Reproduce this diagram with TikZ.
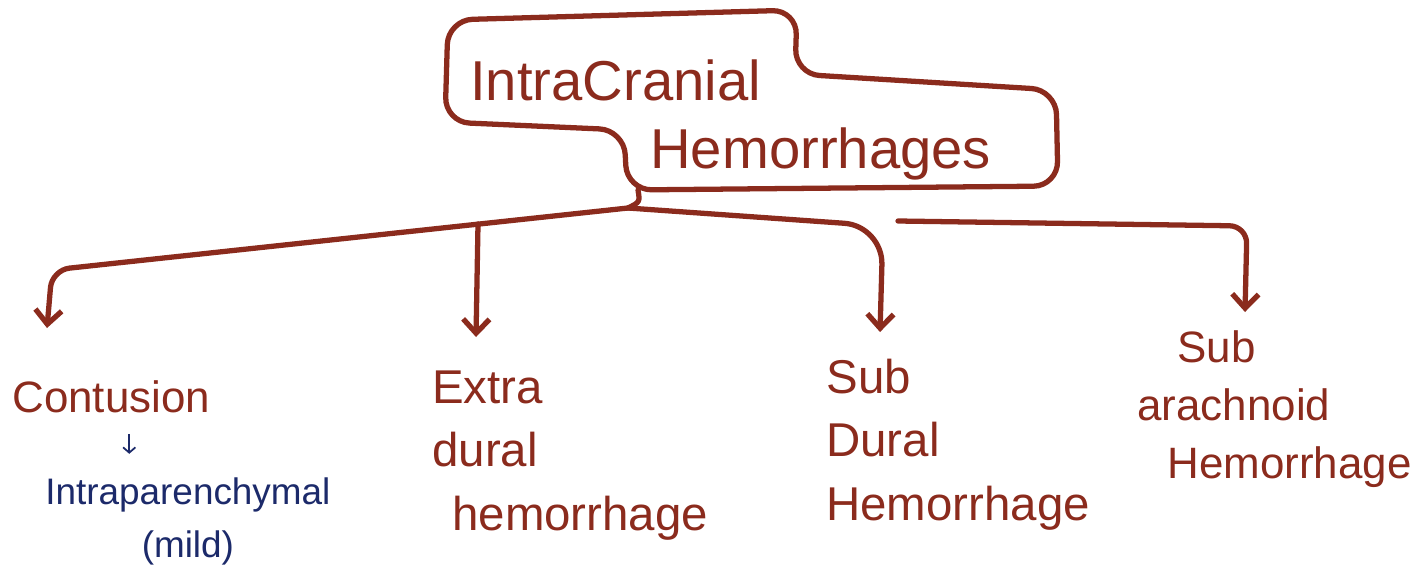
\documentclass[tikz,border=0pt]{standalone}
\usepackage{fontspec}
\setmainfont{Liberation Sans}
\usetikzlibrary{arrows.meta}
\definecolor{inkred}{HTML}{8B2B1D}
\definecolor{inkblue}{HTML}{1C2A6A}

\begin{document}
\begin{tikzpicture}
[x=0.02cm,y=-0.02cm,
  boxdecorate/.style={draw=inkred,line width=3pt,rounded corners=14pt},%
  titledecorate/.style={text=inkred,font=\fontsize{32}{38}\selectfont,inner sep=0pt,anchor=base west},%
  labeldecorate/.style={text=inkred,font=\fontsize{27}{36}\selectfont,inner sep=0pt,anchor=base west,align=left},%
  notedecorate/.style={text=inkblue,font=\fontsize{21}{30}\selectfont,inner sep=0pt,anchor=base west,align=center},%
  linedecorate/.style={draw=inkred,line width=3pt,line cap=round,line join=round},%
  arrowdecorate/.style={linedecorate,-{Straight Barb[length=8pt,width=15pt]}},%
  notearrow/.style={draw=inkblue,line width=1pt,-{Straight Barb[length=3pt,width=7pt]}}]
\useasboundingbox (0,0) rectangle (1422,585);
%% title box
\node (intra) at (470,100) [titledecorate] {IntraCranial};
\node (hemo) at (650,168) [titledecorate] {Hemorrhages};
\draw[boxdecorate] (448,20) -- (797,10) -- (795,74) -- (1056,90) -- (1058,186)
  -- (627,190) -- (624,130) -- (445,122) -- cycle;
%% labels (placed at the baseline of their last line)
\node (contusion) at (12,412) [labeldecorate,font=\fontsize{25}{36}\selectfont] {Contusion};
\node (intrapar) at (45,557) [notedecorate] {Intraparenchymal\\(mild)};
\node (extradural) at (432,530) [labeldecorate] {Extra\\dural\\\hspace*{0.4cm}hemorrhage};
\node (subdural) at (826,520) [labeldecorate] {Sub\\Dural\\Hemorrhage};
\node (subarach) at (1137,478) [labeldecorate,font=\fontsize{25}{33}\selectfont]
  {\hspace*{0.8cm}Sub\\arachnoid\\\hspace*{0.6cm}Hemorrhage};
%% junctions and arrow ends
\coordinate (stem) at (638,190);
\coordinate (fork) at (628,208);
\coordinate (extratop) at (478,224);
\coordinate (arachtop) at (898,221);
\foreach \tipname/\x/\y in {contusiontip/47/328, extratip/476/337,
  subduraltip/880/332, arachtip/1245/312}
  \coordinate (\tipname) at (\x,\y);
%% connectors
\draw[linedecorate] (stem) .. controls (640,202) .. (fork);
\draw[arrowdecorate,rounded corners=10pt] (fork) -- (52,270) -- (contusiontip);
\draw[arrowdecorate] (extratop) -- (extratip);
\draw[arrowdecorate,rounded corners=22pt] (fork) -- (883,226) -- (subduraltip);
\draw[arrowdecorate,rounded corners=10pt] (arachtop) -- (1247,226) -- (arachtip);
\draw[notearrow] (contusion.south) ++(18,21) -- ++(0,20);
\end{tikzpicture}
\end{document}
